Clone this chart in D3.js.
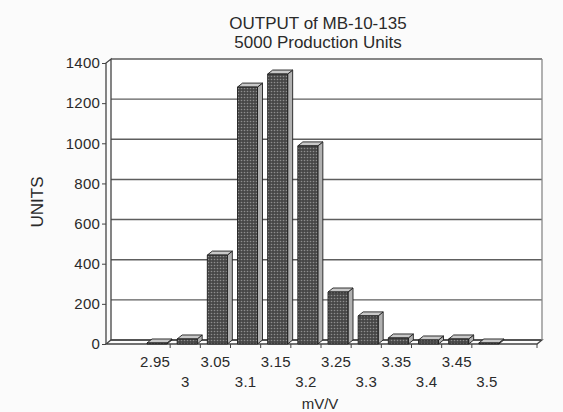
<!DOCTYPE html>
<html>
<head>
<meta charset="utf-8">
<script src="https://cdn.jsdelivr.net/npm/d3@7"></script>
<style>
	body { margin: 0; background: #fafafa; }
	text { font-family: "Liberation Sans", Arial, sans-serif; fill: #2a2a2a; }
</style>
</head>
<body>
<div class="chart"></div>
<script>
// data
const categories = ['2.95', '3', '3.05', '3.1', '3.15', '3.2', '3.25', '3.3', '3.35', '3.4', '3.45', '3.5'];
const units = [5, 25, 443, 1280, 1345, 987, 259, 140, 30, 20, 25, 5];
const yTicks = [0, 200, 400, 600, 800, 1000, 1200, 1400];
const titleLines = ['OUTPUT of MB-10-135', '5000 Production Units'];

const W = 563;
const H = 412;
// plot box (front face of the floor / left wall)
const plot = { left: 106, right: 537, top: 63, bottom: 344 };
// 3d depth offset
const dx = 5;
const dy = 4;

const svg = d3.select('.chart')
	.append('svg')
		.attr('width', W)
		.attr('height', H);

svg.append('rect')
	.attr('width', W)
	.attr('height', H)
	.attr('fill', '#fbfbfb');

// dotted texture for the bars
const defs = svg.append('defs');
const pat = defs.append('pattern')
	.attr('id', 'dots')
	.attr('width', 3)
	.attr('height', 3)
	.attr('patternUnits', 'userSpaceOnUse');
pat.append('rect')
	.attr('width', 3)
	.attr('height', 3)
	.attr('fill', '#474747');
pat.append('circle')
	.attr('cx', 1.5)
	.attr('cy', 1.5)
	.attr('r', 0.8)
	.attr('fill', '#8e8e8e');

const yScale = d3.scaleLinear()
	.domain([0, 1400])
	.range([plot.bottom, plot.top]);

const xScale = d3.scaleBand()
	.domain(categories)
	.range([140, 502]);

// back wall + floor
svg.append('rect')
	.attr('x', plot.left + dx)
	.attr('y', plot.top - dy)
	.attr('width', plot.right - plot.left)
	.attr('height', plot.bottom - plot.top)
	.attr('fill', '#ffffff');

// gridlines on the back wall
svg.append('g')
	.selectAll('line')
	.data(yTicks)
	.enter()
	.append('line')
		.attr('x1', plot.left + dx)
		.attr('x2', plot.right + dx)
		.attr('y1', d => yScale(d) - dy)
		.attr('y2', d => yScale(d) - dy)
		.attr('stroke', '#5e5e5e')
		.attr('stroke-width', 1.4);

const frame = svg.append('g')
	.attr('fill', 'none')
	.attr('stroke', '#444')
	.attr('stroke-width', 1.3);

// left wall
frame.append('path')
	.attr('d', `M${plot.left},${plot.bottom} V${plot.top} L${plot.left + dx},${plot.top - dy} V${plot.bottom - dy}`);
// floor
frame.append('path')
	.attr('d', `M${plot.left},${plot.bottom} H${plot.right} L${plot.right + dx},${plot.bottom - dy} H${plot.left + dx} Z`);
// right edge of the back wall
frame.append('path')
	.attr('d', `M${plot.right + dx},${plot.top - dy} V${plot.bottom - dy}`)
	.attr('stroke', '#888');

// y axis
const yAxis = d3.axisLeft(yScale)
	.tickValues(yTicks)
	.tickFormat(d3.format('d'))
	.tickSize(4)
	.tickPadding(2);

svg.append('g')
	.attr('transform', `translate(${plot.left}, 0)`)
	.call(yAxis)
	.call(g => g.select('.domain').remove())
	.call(g => g.selectAll('line').attr('stroke', '#444'))
	.call(g => g.selectAll('text')
		.attr('fill', '#2a2a2a')
		.style('font-size', '15px')
		.style('letter-spacing', '0.2px'));

// x axis, labels on two staggered rows
const xAxis = d3.axisBottom(xScale)
	.tickSize(0)
	.tickPadding(10);

svg.append('g')
	.attr('transform', `translate(0, ${plot.bottom})`)
	.call(xAxis)
	.call(g => g.select('.domain').remove())
	.call(g => g.selectAll('text')
		.attr('fill', '#2a2a2a')
		.attr('y', (d, i) => i % 2 === 0 ? 12 : 32)
		.style('font-size', '15px')
		.style('letter-spacing', '0.2px'));

// x tick marks between categories + at the end of the floor
const xTickPos = categories.slice(1).map(c => xScale(c)).concat([plot.right]);
svg.append('g')
	.selectAll('line')
	.data(xTickPos)
	.enter()
	.append('line')
		.attr('x1', d => d)
		.attr('x2', d => d)
		.attr('y1', plot.bottom)
		.attr('y2', plot.bottom + 4)
		.attr('stroke', '#444');

// bars (side, top, front face)
const bw = 20;
const bars = svg.append('g')
	.selectAll('.bar')
	.data(categories.map((c, i) => ({ c: c, v: units[i] })))
	.enter()
	.append('g')
	.attr('class', 'bar')
	.attr('stroke', '#1e1e1e')
	.attr('stroke-width', 0.9)
	.attr('stroke-linejoin', 'round');

bars.append('path')
	.attr('fill', '#b0b0b0')
	.attr('d', d => {
		const x0 = xScale(d.c) + 7 + bw;
		const yt = yScale(d.v);
		return `M${x0},${plot.bottom} V${yt} l${dx},${-dy} V${plot.bottom - dy} Z`;
	});

bars.append('path')
	.attr('fill', '#c8c8c8')
	.attr('d', d => {
		const x0 = xScale(d.c) + 7;
		const yt = yScale(d.v);
		return `M${x0},${yt} l${dx},${-dy} h${bw} l${-dx},${dy} Z`;
	});

bars.append('rect')
	.attr('x', d => xScale(d.c) + 7)
	.attr('y', d => yScale(d.v))
	.attr('width', bw)
	.attr('height', d => plot.bottom - yScale(d.v))
	.attr('fill', 'url(#dots)');

// titles
svg.append('g')
	.selectAll('text')
	.data(titleLines)
	.enter()
	.append('text')
		.attr('x', 318)
		.attr('y', (d, i) => 29 + i * 19)
		.style('text-anchor', 'middle')
		.style('font-size', '17px')
		.text(d => d);

svg.append('text')
	.attr('x', 320)
	.attr('y', 409)
	.style('text-anchor', 'middle')
	.style('font-size', '15px')
	.text('mV/V');

svg.append('text')
	.attr('transform', 'translate(43, 202) rotate(-90)')
	.style('text-anchor', 'middle')
	.style('font-size', '17px')
	.text('UNITS');
</script>
</body>
</html>
